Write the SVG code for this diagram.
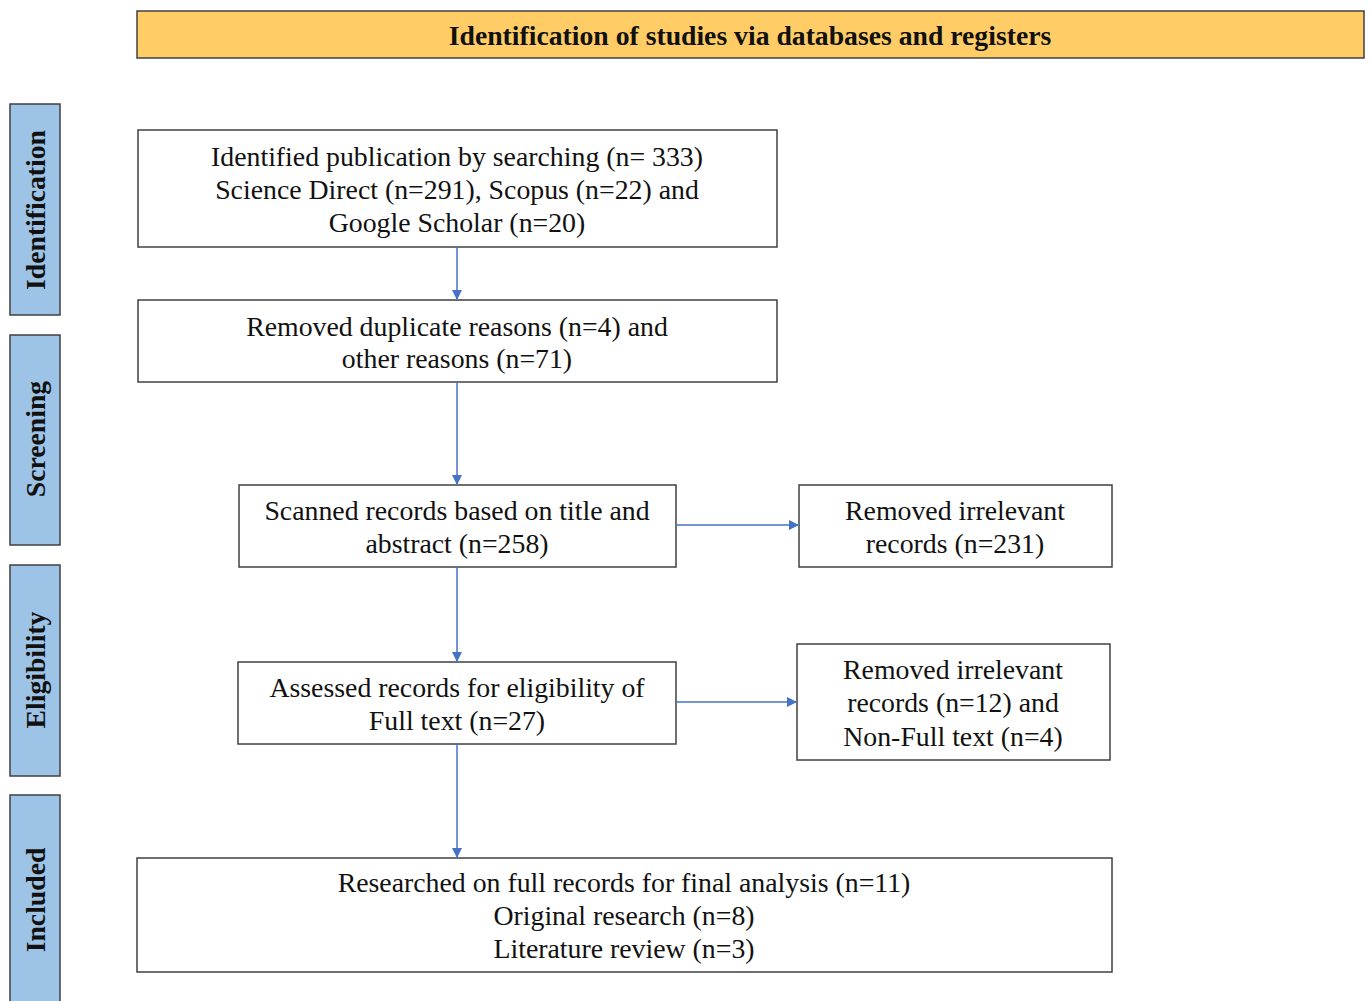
<svg xmlns="http://www.w3.org/2000/svg" width="1370" height="1001" viewBox="0 0 1370 1001">
<style>
.box{fill:#fff;stroke:#404040;stroke-width:1.5}
.side{fill:#9DC3E6;stroke:#404040;stroke-width:1.5}
.hdr{fill:#FFCC66;stroke:#404040;stroke-width:1.5}
.t{font-family:"Liberation Serif","Times New Roman",serif;font-size:27.8px;fill:#111;text-anchor:middle;dominant-baseline:central}
.b{font-family:"Liberation Serif","Times New Roman",serif;font-size:27.7px;font-weight:bold;fill:#111;text-anchor:middle;dominant-baseline:central}
.c{stroke:#4472C4;stroke-width:1.5;fill:none;marker-end:url(#ah)}
</style>
<defs>
<marker id="ah" viewBox="0 0 10 10" refX="10" refY="5" markerWidth="11" markerHeight="10" markerUnits="userSpaceOnUse" orient="auto">
<path d="M0,0 L10,5 L0,10 z" fill="#4472C4"/>
</marker>
</defs>
<rect width="1370" height="1001" fill="#fff"/>
<g id="header">
<rect class="hdr" x="137" y="11" width="1227" height="47"/>
<text class="b" x="750" y="35">Identification of studies via databases and registers</text>
</g>
<g id="side-identification">
<rect class="side" x="10" y="104" width="50" height="211"/>
<text class="b" transform="translate(35,210) rotate(-90)">Identification</text>
</g>
<g id="side-screening">
<rect class="side" x="10" y="335" width="50" height="210"/>
<text class="b" transform="translate(35,439) rotate(-90)">Screening</text>
</g>
<g id="side-eligibility">
<rect class="side" x="10" y="565" width="50" height="211"/>
<text class="b" transform="translate(35,670) rotate(-90)">Eligibility</text>
</g>
<g id="side-included">
<rect class="side" x="10" y="795" width="50" height="215"/>
<text class="b" transform="translate(35,900) rotate(-90)">Included</text>
</g>
<g id="n1">
<rect class="box" x="138" y="130" width="639" height="117"/>
<text class="t" x="457" y="156">Identified publication by searching (n= 333)</text>
<text class="t" x="457" y="189">Science Direct (n=291), Scopus (n=22) and</text>
<text class="t" x="457" y="222">Google Scholar (n=20)</text>
</g>
<g id="n2">
<rect class="box" x="138" y="300" width="639" height="82"/>
<text class="t" x="457" y="326">Removed duplicate reasons (n=4) and</text>
<text class="t" x="457" y="358">other reasons (n=71)</text>
</g>
<g id="n3">
<rect class="box" x="239" y="485" width="437" height="82"/>
<text class="t" x="457" y="510">Scanned records based on title and</text>
<text class="t" x="457" y="543">abstract (n=258)</text>
</g>
<g id="n4">
<rect class="box" x="799" y="485" width="313" height="82"/>
<text class="t" x="955" y="510">Removed irrelevant</text>
<text class="t" x="955" y="543">records (n=231)</text>
</g>
<g id="n5">
<rect class="box" x="238" y="662" width="438" height="82"/>
<text class="t" x="457" y="687">Assessed records for eligibility of</text>
<text class="t" x="457" y="720">Full text (n=27)</text>
</g>
<g id="n6">
<rect class="box" x="797" y="644" width="313" height="116"/>
<text class="t" x="953" y="669">Removed irrelevant</text>
<text class="t" x="953" y="702">records (n=12) and</text>
<text class="t" x="953" y="736">Non-Full text (n=4)</text>
</g>
<g id="n7">
<rect class="box" x="137" y="858" width="975" height="114"/>
<text class="t" x="624" y="882">Researched on full records for final analysis (n=11)</text>
<text class="t" x="624" y="915">Original research (n=8)</text>
<text class="t" x="624" y="948">Literature review (n=3)</text>
</g>
<g id="connectors">
<line class="c" x1="457" y1="247" x2="457" y2="300"/>
<line class="c" x1="457" y1="382" x2="457" y2="485"/>
<line class="c" x1="457" y1="567" x2="457" y2="662"/>
<line class="c" x1="457" y1="744" x2="457" y2="858"/>
<line class="c" x1="676" y1="525" x2="799" y2="525"/>
<line class="c" x1="676" y1="702" x2="797" y2="702"/>
</g>
</svg>
